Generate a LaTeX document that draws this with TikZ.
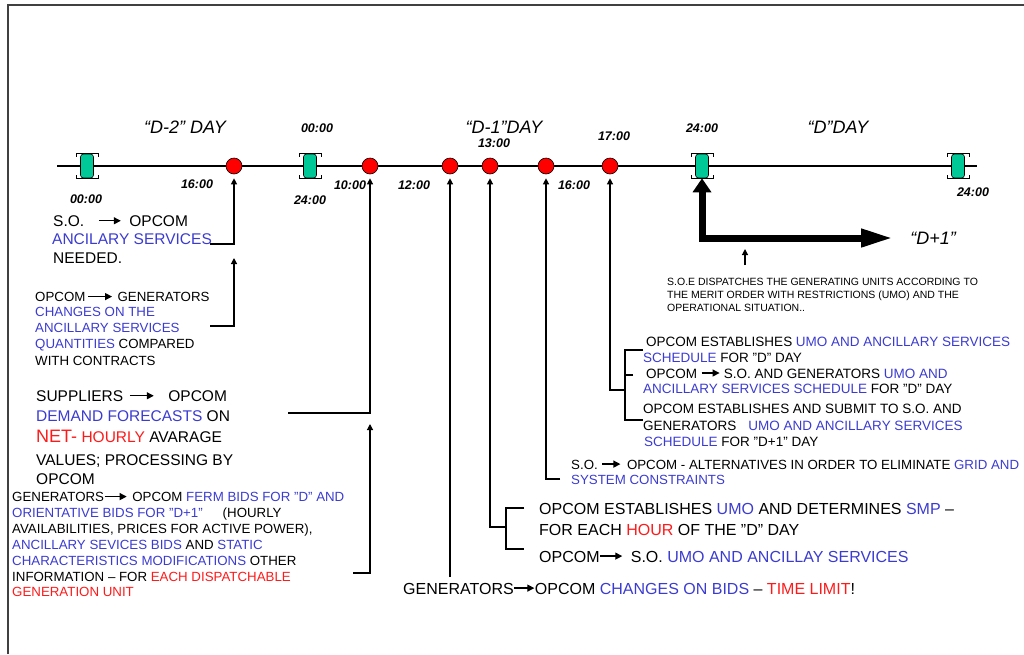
\documentclass[tikz,border=0pt]{standalone}
\usepackage{fontspec}
\setmainfont{Liberation Sans}
\usetikzlibrary{arrows.meta,positioning}
\definecolor{opblue}{HTML}{3B3BD1}
\definecolor{opred}{HTML}{FF1A1A}
\definecolor{opgreen}{HTML}{00C896}
\newcommand{\blu}[1]{\textcolor{opblue}{#1}}
\newcommand{\redt}[1]{\textcolor{opred}{#1}}
\newcommand{\tto}[1][22pt]{\tikz[baseline=-0.7ex]\draw[line width=1.2pt,-{Triangle[length=7pt,width=7pt]}] (0pt,0pt) -- (#1,0pt);}

\begin{document}
\begin{tikzpicture}[x=1pt,y=-1pt,
    gate/.style={draw=black,line width=.6pt,fill=opgreen,rounded corners=3pt,minimum width=13pt,minimum height=24pt,inner sep=0pt},
    event/.style={circle,draw=black,line width=.6pt,fill=red,minimum size=16pt,inner sep=0pt},
    wire/.style={line width=1.2pt},
    conn/.style={wire,-{Triangle[length=6pt,width=6pt]},shorten >=4pt},
    bigarrow/.style={line width=7pt,{Triangle[length=14pt,width=18pt]}-{Triangle[length=32pt,width=17pt]}},
    txtL/.style={font=\fontsize{15.5}{18}\selectfont,anchor=base west,inner sep=0pt},
    txtB/.style={font=\fontsize{16}{19}\selectfont,anchor=base west,inner sep=0pt},
    txtM/.style={font=\fontsize{13.3}{15}\selectfont,anchor=base west,inner sep=0pt},
    txtR/.style={font=\fontsize{13.5}{16}\selectfont,anchor=base west,inner sep=0pt},
    txtT/.style={font=\fontsize{10.5}{12}\selectfont,anchor=base west,inner sep=0pt},
    hour/.style={font=\bfseries\itshape\fontsize{12.5}{14}\selectfont,inner sep=0pt},
    dayname/.style={font=\itshape\fontsize{18}{21}\selectfont,inner sep=0pt}]
  \useasboundingbox (0,0) rectangle (1024,654);
  \draw[line width=2pt,black!75] (8,654) -- (8,5) -- (1024,5);

  % time axis
  \draw[wire] (57,166) -- (977,166);
  \node[gate] (g1) at (87,166) {};
  \node[gate] (g2) at (310,166) {};
  \node[gate] (g3) at (702,166) {};
  \node[gate] (g4) at (958,166) {};
  \foreach \g in {g1,g2,g3,g4}{
    \draw[line width=1pt] ([xshift=-11pt,yshift=-3pt]\g.north) -- ++(0pt,3pt) -- ++(22pt,0pt) -- ++(0pt,-3pt);
    \draw[line width=1pt] ([xshift=-11pt,yshift=3pt]\g.south) -- ++(0pt,-3pt) -- ++(22pt,0pt) -- ++(0pt,3pt);
  }
  \node[event] (d1) at (234,166) {};
  \node[event] (d2) at (370,166) {};
  \node[event] (d3) at (450,166) {};
  \node[event] (d4) at (490,166) {};
  \node[event] (d5) at (546,166) {};
  \node[event] (d6) at (610,166) {};

  % hours
  \node[hour] (t1) at (86,199) {00:00};
  \node[hour] (t2) at (197,184) {16:00};
  \node[hour] (t3) at (317,128) {00:00};
  \node[hour] (t4) at (310,200) {24:00};
  \node[hour] (t5) at (350,185) {10:00};
  \node[hour] (t6) at (414,185) {12:00};
  \node[hour] (t7) at (494,143) {13:00};
  \node[hour] (t8) at (574,185) {16:00};
  \node[hour] (t9) at (614,136) {17:00};
  \node[hour] (t10) at (702,128) {24:00};
  \node[hour] (t11) at (973,192) {24:00};

  % days
  \node[dayname] (dm2) at (185,127) {“D-2” DAY};
  \node[dayname] (dm1) at (504,127) {“D-1”DAY};
  \node[dayname] (dd0) at (838,127) {“D”DAY};
  \node[dayname] (dp1) at (933,238) {“D+1”};

  % "D-2" day
  \node[txtL] (a1) at (53,226.5) {S.O.\hspace{14pt}\tto\hspace{8pt}OPCOM};
  \node[txtL] (a2) at (52,244.5) {\blu{ANCILARY SERVICES}};
  \node[txtL] (a3) at (53,263.5) {NEEDED.};

  \node[txtM] (b1) at (35,301.5) {OPCOM\hspace{2pt}\tto[24pt]\hspace{5pt}GENERATORS};
  \node[txtM] (b2) at (35,316.5) {\blu{CHANGES ON THE}};
  \node[txtM] (b3) at (35,332.5) {\blu{ANCILLARY SERVICES}};
  \node[txtM] (b4) at (35,348.5) {\blu{QUANTITIES} COMPARED};
  \node[txtM] (b5) at (35,365.5) {WITH CONTRACTS};

  \node[txtL] (c1) at (36,401.5) {SUPPLIERS\hspace{6pt}\tto[24pt]\hspace{14pt}OPCOM};
  \node[txtL] (c2) at (36,421.5) {\blu{DEMAND FORECASTS} ON};
  \node[txtL] (c3) at (36,442.5) {{\fontsize{18}{20}\selectfont\redt{NET-}} \redt{HOURLY} AVARAGE};
  \node[txtL] (c4) at (36,465.5) {VALUES; PROCESSING BY};
  \node[txtL] (c5) at (36,484.5) {OPCOM};

  \node[txtM] (e1) at (12,501.5) {GENERATORS\tto\hspace{5pt}OPCOM \blu{FERM BIDS FOR "D" AND}};
  \node[txtM] (e2) at (12,517.5) {\blu{ORIENTATIVE BIDS FOR "D+1"}\hspace{20pt}(HOURLY};
  \node[txtM] (e3) at (12,533.5) {AVAILABILITIES, PRICES FOR ACTIVE POWER),};
  \node[txtM] (e4) at (12,549.5) {\blu{ANCILLARY SEVICES BIDS} AND \blu{STATIC}};
  \node[txtM] (e5) at (12,565.5) {\blu{CHARACTERISTICS MODIFICATIONS} OTHER};
  \node[txtM] (e6) at (12,581.5) {INFORMATION – FOR \redt{EACH DISPATCHABLE}};
  \node[txtM] (e7) at (12,596.5) {\redt{GENERATION UNIT}};

  % "D-1" day
  \node[txtR] (r1) at (646,346) {OPCOM ESTABLISHES \blu{UMO AND ANCILLARY SERVICES}};
  \node[txtR] (r2) at (643,362) {\blu{SCHEDULE} FOR "D" DAY};
  \node[txtR] (r3) at (646,378) {OPCOM \tto[18pt] S.O. AND GENERATORS \blu{UMO AND}};
  \node[txtR] (r4) at (643,393) {\blu{ANCILLARY SERVICES SCHEDULE} FOR "D" DAY};
  \node[txtR] (r5) at (643,413) {OPCOM ESTABLISHES AND SUBMIT TO S.O. AND};
  \node[txtR] (r6) at (643,430) {GENERATORS\hspace{12pt}\blu{UMO AND ANCILLARY SERVICES}};
  \node[txtR] (r7) at (644,446) {\blu{SCHEDULE} FOR "D+1" DAY};

  \node[txtM] (s1) at (571,469) {S.O.\hspace{4pt}\tto[18pt]\hspace{6pt}OPCOM - ALTERNATIVES IN ORDER TO ELIMINATE \blu{GRID AND}};
  \node[txtM] (s2) at (571,484) {\blu{SYSTEM CONSTRAINTS}};

  \node[txtB] (u1) at (539,514) {OPCOM ESTABLISHES \blu{UMO} AND DETERMINES \blu{SMP} –};
  \node[txtB] (u2) at (539,535) {FOR EACH \redt{HOUR} OF THE "D" DAY};
  \node[txtB] (u3) at (539,562) {OPCOM\tto\hspace{8pt}S.O. \blu{UMO AND ANCILLAY SERVICES}};
  \node[txtB] (u4) at (403,594) {GENERATORS\tto[20pt]OPCOM \blu{CHANGES ON BIDS} – \redt{TIME LIMIT}!};

  % "D" day
  \node[txtT] (n1) at (667,285.6) {S.O.E DISPATCHES THE GENERATING UNITS ACCORDING TO};
  \node[txtT] (n2) at (667,298.6) {THE MERIT ORDER WITH RESTRICTIONS (UMO) AND THE};
  \node[txtT] (n3) at (667,311.6) {OPERATIONAL SITUATION..};

  % connectors
  \coordinate (k1) at (210,244);
  \draw[conn] (k1) -| (d1.south);
  \coordinate (k2) at (210,326);
  \coordinate (k2t) at (234,258);
  \draw[conn,shorten >=0pt] (k2) -| (k2t);
  \coordinate (k3) at (288,413);
  \draw[conn] (k3) -| (d2.south);
  \coordinate (k4) at (353,573);
  \coordinate (k4t) at (370,424);
  \draw[conn,shorten >=0pt] (k4) -| (k4t);
  \coordinate (k5) at (450,577);
  \draw[conn] (k5) -- (d3.south);
  \coordinate (k6) at (506,527);
  \coordinate (b6a) at (524,508);
  \coordinate (b6b) at (524,549);
  \draw[conn] (k6) -| (d4.south);
  \draw[wire] (b6a) -| (k6) |- (b6b);
  \coordinate (k7) at (560,479);
  \draw[conn] (k7) -| (d5.south);
  \coordinate (k8) at (625,390);
  \coordinate (b8a) at (643,350);
  \coordinate (b8b) at (643,420);
  \coordinate (b8c) at (633,375);
  \draw[conn] (k8) -| (d6.south);
  \draw[wire] (b8a) -| (k8) |- (b8b);
  \draw[wire] (b8c) -- (b8c -| k8);

  \coordinate (dq) at (893,238);
  \draw[bigarrow] (g3.south) |- (dq);
  \coordinate (m1) at (745,265);
  \coordinate (m2) at (745,249);
  \draw[conn,shorten >=0pt] (m1) -- (m2);
\end{tikzpicture}
\end{document}
